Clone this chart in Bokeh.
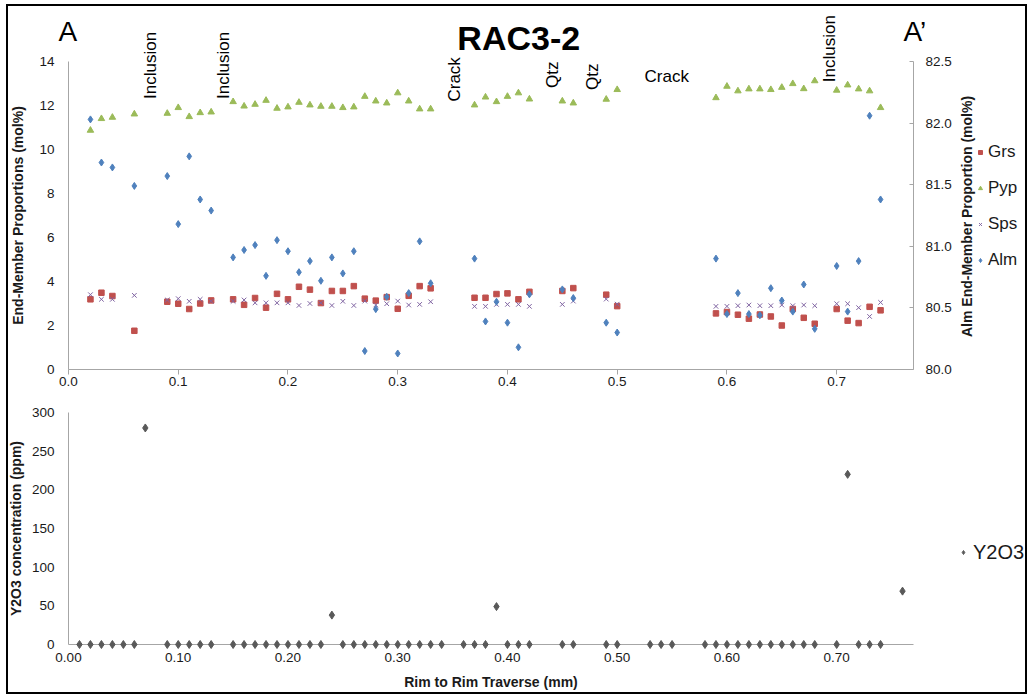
import math
from bokeh.plotting import figure
from bokeh.models import (Range1d, LinearAxis, FixedTicker, NumeralTickFormatter,
                          Legend, LegendItem, Label)
from bokeh.layouts import column
from bokeh.embed import file_html
from bokeh.resources import INLINE

# ---------------- data ----------------
pos = [0.02, 0.03, 0.04, 0.06, 0.09, 0.10, 0.11, 0.12, 0.13,
       0.15, 0.16, 0.17, 0.18, 0.19, 0.20, 0.21, 0.22, 0.23, 0.24, 0.25,
       0.26, 0.27, 0.28, 0.29, 0.30, 0.31, 0.32, 0.33,
       0.37, 0.38, 0.39, 0.40, 0.41, 0.42,
       0.45, 0.46, 0.49, 0.50,
       0.59, 0.60, 0.61, 0.62, 0.63, 0.64, 0.65, 0.66, 0.67, 0.68,
       0.70, 0.71, 0.72, 0.73, 0.74]

grs = [3.19, 3.49, 3.34, 1.76, 3.08, 2.99, 2.75, 3.00, 3.14,
       3.19, 2.94, 3.25, 2.81, 3.44, 3.19, 3.76, 3.63, 3.02, 3.57, 3.57,
       3.79, 3.22, 3.13, 3.29, 2.76, 3.35, 3.79, 3.69,
       3.26, 3.26, 3.43, 3.46, 3.19, 3.53,
       3.57, 3.70, 3.40, 2.88,
       2.55, 2.61, 2.49, 2.31, 2.50, 2.41, 2.00, 2.75, 2.35, 2.08,
       2.75, 2.22, 2.11, 2.85, 2.69]

pyp = [10.87, 11.40, 11.46, 11.61, 11.64, 11.90, 11.49, 11.67, 11.70,
       12.17, 11.97, 12.05, 12.23, 11.87, 11.93, 12.14, 12.02, 11.96, 11.96, 11.90,
       11.93, 12.41, 12.20, 12.11, 12.57, 12.20, 11.84, 11.84,
       12.02, 12.38, 12.17, 12.41, 12.57, 12.29,
       12.20, 12.11, 12.28, 12.72,
       12.35, 12.87, 12.66, 12.75, 12.75, 12.72, 12.82, 12.99, 12.76, 13.12,
       12.69, 12.93, 12.75, 12.66, 11.90]

sps = [3.40, 3.19, 3.19, 3.37, 3.16, 3.22, 3.10, 3.19, 3.10,
       3.10, 3.16, 3.03, 3.03, 3.03, 3.03, 2.91, 3.00, 3.03, 2.91, 3.10,
       2.91, 3.11, 2.93, 2.99, 3.11, 2.93, 2.96, 3.08,
       2.87, 2.87, 2.96, 2.96, 2.96, 2.87,
       2.96, 3.11, 3.20, 2.97,
       2.87, 2.87, 2.90, 2.93, 2.90, 2.90, 2.93, 2.90, 2.93, 2.90,
       2.99, 2.99, 2.81, 2.41, 3.05]

alm = [82.03, 81.68, 81.64, 81.49, 81.57, 81.18, 81.73, 81.38, 81.29,
       80.91, 80.97, 81.01, 80.76, 81.05, 80.96, 80.79, 80.88, 80.72, 80.91, 80.78,
       80.96, 80.15, 80.49, 80.59, 80.13, 80.62, 81.04, 80.70,
       80.90, 80.39, 80.55, 80.38, 80.18, 80.61,
       80.65, 80.58, 80.38, 80.30,
       80.90, 80.45, 80.62, 80.45, 80.44, 80.66, 80.56, 80.47, 80.69, 80.33,
       80.84, 80.47, 80.88, 82.06, 81.38]

y_pos = [0.01, 0.02, 0.03, 0.04, 0.05, 0.06, 0.07,
         0.09, 0.10, 0.11, 0.12, 0.13,
         0.15, 0.16, 0.17, 0.18, 0.19, 0.20, 0.21, 0.22, 0.23, 0.24,
         0.25, 0.26, 0.27, 0.28, 0.29, 0.30, 0.31, 0.32, 0.33, 0.34,
         0.36, 0.37, 0.38, 0.39, 0.40, 0.41, 0.42,
         0.45, 0.46, 0.49, 0.50, 0.53, 0.54, 0.55,
         0.58, 0.59, 0.60, 0.61, 0.62, 0.63, 0.64, 0.65, 0.66, 0.67, 0.68,
         0.70, 0.71, 0.72, 0.73, 0.74, 0.76]
y2o3 = [0, 0, 0, 0, 0, 0, 280,
        0, 0, 0, 0, 0,
        0, 0, 0, 0, 0, 0, 0, 0, 0, 38,
        0, 0, 0, 0, 0, 0, 0, 0, 0, 0,
        0, 0, 0, 49, 0, 0, 0,
        0, 0, 0, 0, 0, 0, 0,
        0, 0, 0, 0, 0, 0, 0, 0, 0, 0, 0,
        0, 220, 0, 0, 0, 69]

x_ticks = [0.0, 0.1, 0.2, 0.3, 0.4, 0.5, 0.6, 0.7]
left_ticks = [0, 2, 4, 6, 8, 10, 12, 14]
right_ticks = [80.0, 80.5, 81.0, 81.5, 82.0, 82.5]
y2_ticks = [0, 50, 100, 150, 200, 250, 300]

notes = ["Inclusion", "Inclusion", "Crack", "Qtz", "Qtz", "Inclusion"]
note_x = [0.0743, 0.1408, 0.3513, 0.4406, 0.4775, 0.6939]
note_y = [12.30, 12.30, 12.18, 12.80, 12.71, 13.06]

# ---------------- styling ----------------
FONT = "Liberation Sans"
AX = "#A6A6A6"
TXT = "#1a1a1a"
C_GRS, C_PYP, C_SPS, C_ALM, C_Y = "#C0504D", "#9BBB59", "#8064A2", "#4F81BD", "#595959"
X_END = 0.77


def style_ticks(ax, size="13.5px"):
    ax.minor_tick_line_color = None
    ax.major_label_text_font = FONT
    ax.major_label_text_font_size = size
    ax.major_label_text_color = TXT


def style_title(ax, standoff):
    ax.axis_label_text_font = FONT
    ax.axis_label_text_font_style = "bold"
    ax.axis_label_text_font_size = "14px"
    ax.axis_label_text_color = TXT
    ax.axis_label_standoff = standoff


# ---------------- top figure ----------------
p1 = figure(width=1017, height=394,
            x_range=Range1d(-0.054675, 0.87206), y_range=Range1d(-1.40909, 16.5),
            output_backend="svg", toolbar_location=None,
            min_border_left=0, min_border_right=0, min_border_top=0, min_border_bottom=0)
p1.xgrid.grid_line_color = None
p1.ygrid.grid_line_color = None
p1.outline_line_color = None

xa = p1.below[0]
xa.fixed_location = 0
xa.bounds = (0, X_END)
xa.ticker = FixedTicker(ticks=x_ticks)
xa.formatter = NumeralTickFormatter(format="0.0")
xa.axis_line_color = AX
xa.major_tick_line_color = AX
xa.major_tick_out = 5
xa.major_tick_in = 0
xa.major_label_standoff = 2
style_ticks(xa)

ya = p1.left[0]
ya.fixed_location = 0
ya.bounds = (0, 14)
ya.ticker = FixedTicker(ticks=left_ticks)
ya.axis_line_color = AX
ya.major_tick_out = 0
ya.major_tick_in = 0
ya.major_label_standoff = 14
style_ticks(ya)
ya.axis_label = "End-Member Proportions (mol%)"
style_title(ya, 10)

p1.extra_y_ranges = {"alm": Range1d(79.74838, 82.94643)}
ra = LinearAxis(y_range_name="alm", bounds=(80, 82.5), fixed_location=X_END,
                ticker=FixedTicker(ticks=right_ticks),
                formatter=NumeralTickFormatter(format="0.0"))
ra.axis_line_color = AX
ra.major_tick_line_color = AX
ra.major_tick_in = 4
ra.major_tick_out = 0
ra.major_label_standoff = 12
style_ticks(ra)
p1.add_layout(ra, "right")

r_grs = p1.scatter(pos, grs, marker="square", size=5.5, fill_color=C_GRS, line_color=C_GRS)
r_pyp = p1.scatter(pos, pyp, marker="triangle", size=6.5, fill_color=C_PYP, line_color=C_PYP)
r_sps = p1.scatter(pos, sps, marker="x", size=6.5, line_color=C_SPS, line_width=1)
r_alm = p1.scatter(pos, alm, marker="diamond", size=7, fill_color=C_ALM, line_color=C_ALM,
                   y_range_name="alm")

leg1 = Legend(items=[LegendItem(label="Grs", renderers=[r_grs]),
                     LegendItem(label="Pyp", renderers=[r_pyp]),
                     LegendItem(label="Sps", renderers=[r_sps]),
                     LegendItem(label="Alm", renderers=[r_alm])],
              location=(967, 130), orientation="vertical", padding=0, margin=0,
              spacing=16, glyph_width=10, glyph_height=20, label_height=20,
              label_standoff=3, label_text_font=FONT, label_text_font_size="17px",
              label_text_color=TXT, border_line_color=None, background_fill_alpha=0)
p1.add_layout(leg1)

# right axis title (reads bottom-to-top)
p1.add_layout(Label(x=0.8192, y=6.955, text="Alm End-Member Proportion (mol%)", angle=math.pi / 2,
                    text_align="center", text_baseline="middle", text_font=FONT,
                    text_font_style="bold", text_font_size="14px", text_color=TXT))

# title and section marks
p1.add_layout(Label(x=0.4103, y=15.05, text="RAC3-2", text_align="center",
                    text_baseline="middle", text_font=FONT, text_font_style="bold",
                    text_font_size="34px", text_color="black"))
p1.add_layout(Label(x=-0.0091, y=15.35, text="A", text_align="left",
                    text_baseline="middle", text_font=FONT, text_font_size="28px",
                    text_color="black"))
p1.add_layout(Label(x=0.7609, y=15.35, text="A\u2019", text_align="left",
                    text_baseline="middle", text_font=FONT, text_font_size="28px",
                    text_color="black"))

for t, nx, ny in zip(notes, note_x, note_y):
    p1.add_layout(Label(x=nx, y=ny, text=t, angle=math.pi / 2, text_align="left",
                        text_baseline="middle", text_font=FONT, text_font_size="17px",
                        text_color="black"))
p1.add_layout(Label(x=0.5249, y=13.30, text="Crack", text_align="left",
                    text_baseline="middle", text_font=FONT, text_font_size="17px",
                    text_color="black"))

# ---------------- bottom figure ----------------
p2 = figure(width=1017, height=292,
            x_range=Range1d(-0.054675, 0.87206), y_range=Range1d(-62.07, 315.52),
            output_backend="svg", toolbar_location=None,
            min_border_left=0, min_border_right=0, min_border_top=0, min_border_bottom=0)
p2.xgrid.grid_line_color = None
p2.ygrid.grid_line_color = None
p2.outline_line_color = None

xb = p2.below[0]
xb.fixed_location = 0
xb.bounds = (0, X_END)
xb.level = "underlay"
xb.ticker = FixedTicker(ticks=x_ticks)
xb.formatter = NumeralTickFormatter(format="0.00")
xb.axis_line_color = AX
xb.major_tick_line_color = None
xb.major_tick_out = 0
xb.major_tick_in = 0
xb.major_label_standoff = 9
style_ticks(xb)
xb.axis_label = "Rim to Rim Traverse (mm)"
style_title(xb, 8)

yb = p2.left[0]
yb.fixed_location = 0
yb.bounds = (0, 300)
yb.ticker = FixedTicker(ticks=y2_ticks)
yb.axis_line_color = AX
yb.major_tick_out = 0
yb.major_tick_in = 0
yb.major_label_standoff = 14
style_ticks(yb)
yb.axis_label = "Y2O3 concentration (ppm)"
style_title(yb, 5)

r_y = p2.scatter(y_pos, y2o3, marker="diamond", size=8, fill_color=C_Y, line_color=C_Y)

leg2 = Legend(items=[LegendItem(label="Y2O3", renderers=[r_y])],
              location=(950, 128), orientation="vertical", padding=0, margin=0,
              glyph_width=10, glyph_height=24, label_height=24, label_standoff=5,
              label_text_font=FONT, label_text_font_size="20px", label_text_color=TXT,
              border_line_color=None, background_fill_alpha=0)
p2.add_layout(leg2)

lay = column(p1, p2, spacing=0, margin=(4, 0, 0, 6),
             styles={"border": "2px solid black"})

open("out.html", "w").write(file_html(lay, INLINE))
